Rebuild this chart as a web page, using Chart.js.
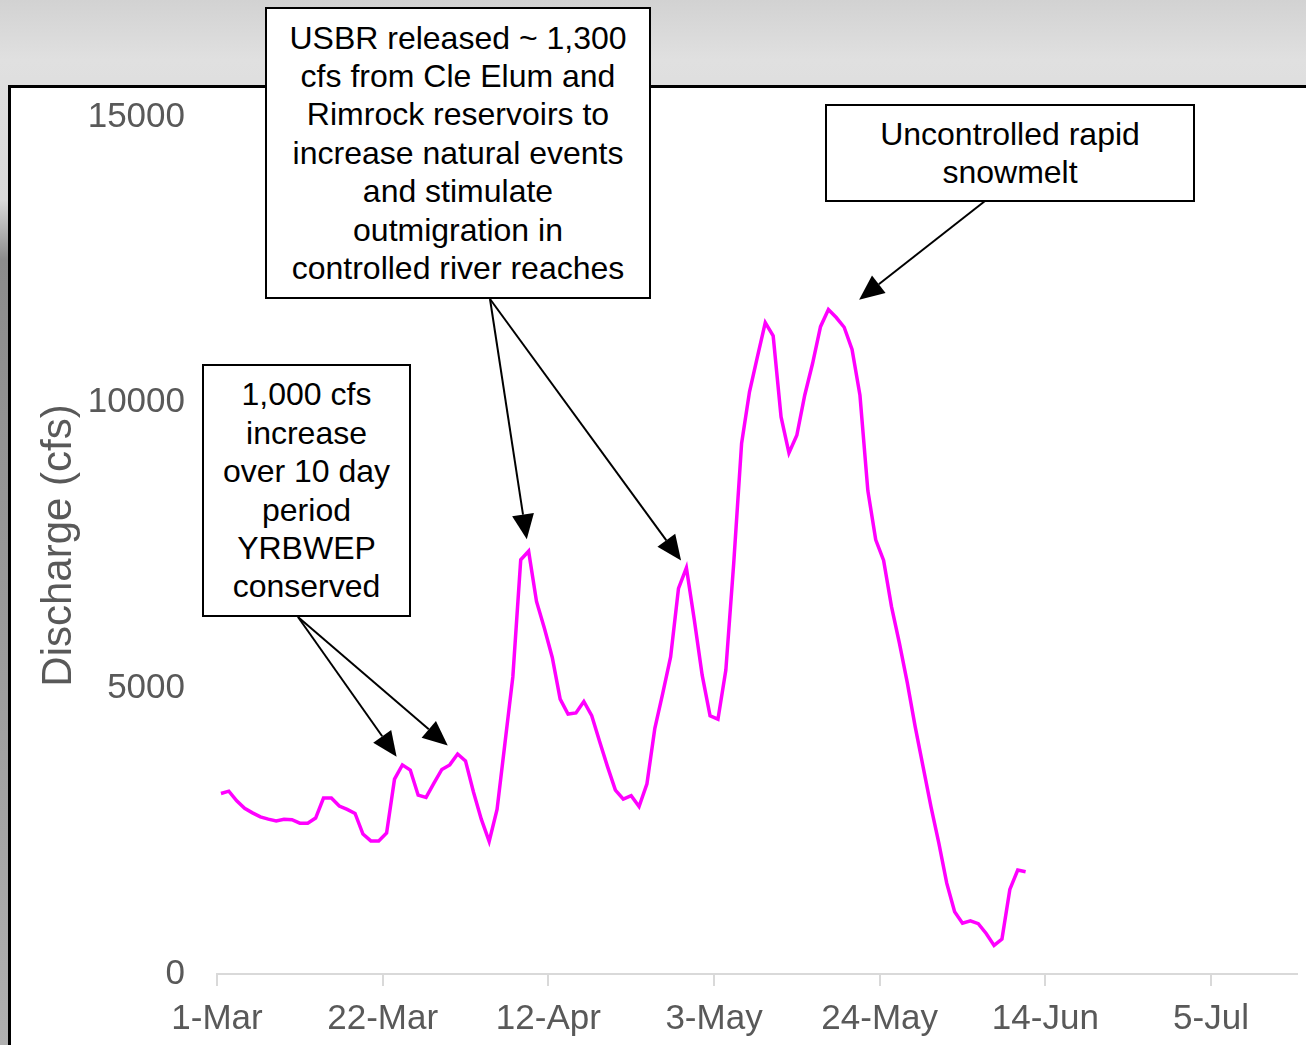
<!DOCTYPE html>
<html>
<head>
<meta charset="utf-8">
<script src="https://cdn.jsdelivr.net/npm/chart.js@4.4.1/dist/chart.umd.min.js"></script>
<style>
  html, body { margin: 0; padding: 0; }
  body {
    width: 1306px; height: 1045px; position: relative; overflow: hidden;
    background: linear-gradient(to bottom, #d2d2d2 0px, #e0e0e0 60px, #d9d9d9 200px, #8c8c8c 260px, #999 600px, #b0b0b0 1045px);
    font-family: "Liberation Sans", Arial, sans-serif;
  }
  #panel {
    position: absolute; left: 8px; top: 85px; right: 0; bottom: 0;
    background: #fff; border-top: 3px solid #000; border-left: 3px solid #000;
  }
  #chart { position: absolute; left: 0; top: 0; }
  .note {
    position: absolute; box-sizing: border-box; background: #fff;
    border: 2px solid #000; color: #000;
    font-size: 32px; line-height: 38.4px; text-align: center;
    display: flex; flex-direction: column; justify-content: center;
  }
</style>
</head>
<body>
<div id="panel"></div>
<canvas id="chart" width="1306" height="1045"></canvas>

<div class="note" style="left:202px; top:364px; width:209px; height:253px;">
  <div>1,000 cfs</div><div>increase</div><div>over 10 day</div><div>period</div><div>YRBWEP</div><div>conserved</div>
</div>
<div class="note" style="left:265px; top:7px; width:386px; height:292px;">
  <div>USBR released ~ 1,300</div><div>cfs from Cle Elum and</div><div>Rimrock reservoirs to</div><div>increase natural events</div><div>and stimulate</div><div>outmigration in</div><div>controlled river reaches</div>
</div>
<div class="note" style="left:825px; top:104px; width:370px; height:98px;">
  <div>Uncontrolled rapid</div><div>snowmelt</div>
</div>

<script>
// daily discharge (cfs), one value per day starting 1-Mar
const flow = [
  3160, 3200, 3030, 2900, 2820, 2750, 2710, 2680, 2710, 2700,
  2640, 2640, 2730, 3080, 3080, 2940, 2880, 2810, 2450, 2330,
  2330, 2470, 3410, 3660, 3570, 3130, 3090, 3340, 3580, 3660,
  3850, 3730, 3190, 2710, 2320, 2880, 4040, 5200, 7250, 7400,
  6520, 6050, 5540, 4810, 4550, 4570, 4770, 4520, 4070, 3630,
  3220, 3060, 3120, 2930, 3330, 4300, 4910, 5550, 6750, 7110,
  6200, 5230, 4520, 4460, 5320, 7190, 9290, 10190, 10800, 11400,
  11170, 9750, 9120, 9430, 10130, 10690, 11330, 11630, 11490, 11320,
  10930, 10130, 8460, 7600, 7240, 6430, 5790, 5100, 4330, 3630,
  2930, 2290, 1590, 1090, 890, 930, 880, 710, 500, 610,
  1480, 1820, 1790
];

const xTickLabels = ['1-Mar', '22-Mar', '12-Apr', '3-May', '24-May', '14-Jun', '5-Jul'];
const yTicks = [0, 5000, 10000, 15000];

// arrows: start at a note box edge, point at a day of the series
const arrows = [
  { from: [298, 617], day: 23, gap: 10 },
  { from: [298, 617], day: 30, gap: 13 },
  { from: [490, 299], day: 39, gap: 12 },
  { from: [490, 299], day: 59, gap: 9 },
  { from: [985, 201], day: 78, gap: 29 }
];

const gridGrey = '#d9d9d9';
const textGrey = '#595959';

// Excel date axis puts each daily point in the middle of its day
const points = flow.map((v, i) => ({ x: i + 0.5, y: v }));

const arrowPlugin = {
  id: 'arrows',
  afterDraw(chart) {
    const ctx = chart.ctx;
    const xs = chart.scales.x, ys = chart.scales.y;
    ctx.save();
    ctx.strokeStyle = '#000';
    ctx.fillStyle = '#000';
    ctx.lineWidth = 2;
    arrows.forEach(a => {
      const px = xs.getPixelForValue(a.day + 0.5);
      const py = ys.getPixelForValue(flow[a.day]);
      const dx = px - a.from[0], dy = py - a.from[1];
      const len = Math.hypot(dx, dy);
      const ux = dx / len, uy = dy / len;
      const tx = px - ux * a.gap, ty = py - uy * a.gap;
      const head = 25, half = 11;
      const bx = tx - ux * head, by = ty - uy * head;
      ctx.beginPath();
      ctx.moveTo(a.from[0], a.from[1]);
      ctx.lineTo(bx, by);
      ctx.stroke();
      ctx.beginPath();
      ctx.moveTo(tx, ty);
      ctx.lineTo(bx - uy * half, by + ux * half);
      ctx.lineTo(bx + uy * half, by - ux * half);
      ctx.closePath();
      ctx.fill();
    });
    ctx.restore();
  }
};

new Chart(document.getElementById('chart').getContext('2d'), {
  type: 'line',
  data: {
    datasets: [{
      label: 'Discharge',
      data: points,
      borderColor: '#ff00ff',
      borderWidth: 3.5,
      pointRadius: 0,
      tension: 0,
      fill: false
    }]
  },
  options: {
    responsive: false,
    animation: false,
    layout: { padding: { left: 0, top: 117, right: 9, bottom: 0 } },
    plugins: { legend: { display: false }, tooltip: { enabled: false } },
    scales: {
      x: {
        type: 'linear',
        min: 0,
        max: 136.9,
        afterBuildTicks: s => { s.ticks = xTickLabels.map((_, k) => ({ value: k * 21 })); },
        afterFit: s => { s.height = 71; },
        border: { display: true, color: gridGrey, width: 2 },
        grid: { drawOnChartArea: false, drawTicks: true, tickLength: 12, color: gridGrey, lineWidth: 2 },
        ticks: {
          autoSkip: false, maxRotation: 0, padding: 12,
          color: textGrey,
          font: { family: '"Liberation Sans", Arial', size: 35 },
          callback: (v, i) => xTickLabels[i]
        }
      },
      y: {
        min: 0,
        max: 15000,
        afterBuildTicks: s => { s.ticks = yTicks.map(v => ({ value: v })); },
        afterFit: s => { s.width = 217; },
        border: { display: false },
        grid: { display: false, drawTicks: false },
        ticks: {
          padding: 32,
          color: textGrey,
          font: { family: '"Liberation Sans", Arial', size: 35 },
          callback: v => String(v)
        },
        title: {
          display: true,
          text: 'Discharge (cfs)',
          color: textGrey,
          font: { family: '"Liberation Sans", Arial', size: 42 },
          padding: { top: 34, bottom: 0 }
        }
      }
    }
  },
  plugins: [arrowPlugin]
});
</script>
</body>
</html>
